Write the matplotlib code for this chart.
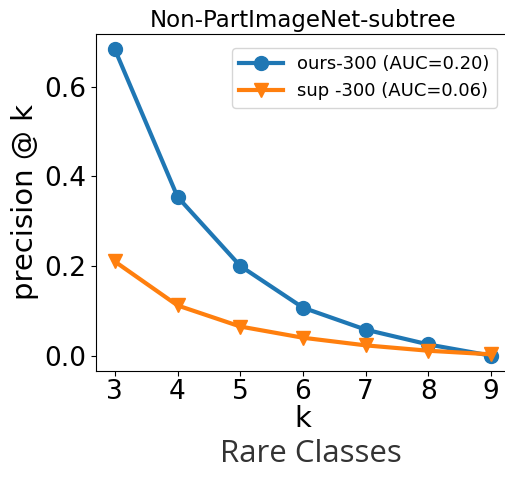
import matplotlib.pyplot as plt

k = [3, 4, 5, 6, 7, 8, 9]
ours = [0.683, 0.354, 0.200, 0.107, 0.058, 0.025, 0.0]
sup = [0.210, 0.112, 0.065, 0.040, 0.023, 0.011, 0.003]

fig = plt.figure(figsize=(5.05, 4.8), dpi=100)
# axes runs past the right edge, like the cropped original
ax = fig.add_axes([96 / 505, 109 / 480, 414 / 505, 337 / 480])

ax.plot(k, ours, marker='o', color='tab:blue', linewidth=3, markersize=10,
        label='ours-300 (AUC=0.20)')
ax.plot(k, sup, marker='v', color='tab:orange', linewidth=3, markersize=10,
        label='sup -300 (AUC=0.06)')

ax.spines['right'].set_visible(False)
ax.set_xticks(k)
ax.set_yticks([0.0, 0.2, 0.4, 0.6])
ax.tick_params(labelsize=19)
ax.tick_params(axis='x', pad=2)
ax.set_xlabel('k', fontsize=21, labelpad=0)
ax.set_ylabel('precision @ k', fontsize=21)
ax.set_title('Non-PartImageNet-subtree', fontsize=16.5, pad=5)
ax.legend(loc='upper right', fontsize=13, bbox_to_anchor=(0.99, 0.985),
          handlelength=2.4)

fig.text(0.615, 0.038, 'Rare Classes', fontsize=22.5, family='Open Sans',
         color='#333333', ha='center')

plt.savefig('out.png')
